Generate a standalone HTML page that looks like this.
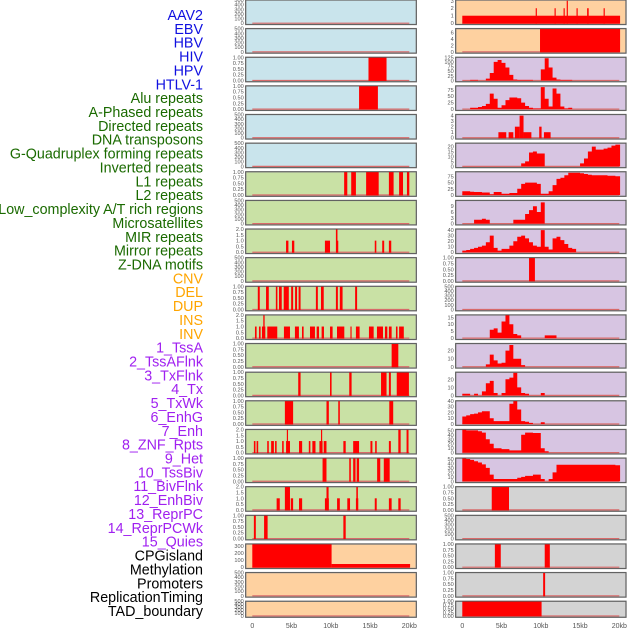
<!DOCTYPE html>
<html><head><meta charset="utf-8"><title>Genomic feature tracks</title>
<style>
html,body{margin:0;padding:0;background:#fff;}
svg{display:block;font-family:"Liberation Sans",sans-serif;}
</style></head>
<body>
<svg id="chart" width="630" height="630" viewBox="0 0 630 630" xmlns="http://www.w3.org/2000/svg">
<g id="labels"></g>
<g id="panels"></g>
<g id="xaxes"></g>
</svg>
<script>
const trackLabels = ["AAV2","EBV","HBV","HIV","HPV","HTLV-1","Alu repeats","A-Phased repeats","Directed repeats","DNA transposons","G-Quadruplex forming repeats","Inverted repeats","L1 repeats","L2 repeats","Low_complexity A/T rich regions","Microsatellites","MIR repeats","Mirror repeats","Z-DNA motifs","CNV","DEL","DUP","INS","INV","1_TssA","2_TssAFlnk","3_TxFlnk","4_Tx","5_TxWk","6_EnhG","7_Enh","8_ZNF_Rpts","9_Het","10_TssBiv","11_BivFlnk","12_EnhBiv","13_ReprPC","14_ReprPCWk","15_Quies","CPGisland","Methylation","Promoters","ReplicationTiming","TAD_boundary"];
const labelGroups = [6,13,5,15,5];
const groupColors = ["#1010e0","#1a6a00","#ffa500","#a020f0","#000000"];
const xTickValues = [0,5,10,15,20];
const xTickLabels = ["0","5kb","10kb","15kb","20kb"];

// ---- left column segment data [startKb, endKb, value] ----
const segHBV = [[14.8,17.1,1]];
const segHIV = [[13.6,16.0,1]];
const segAlu = [[11.7,12.1,1],[12.6,13.2,1],[14.5,16.1,1],[17.4,18.0,1],[18.7,19.2,1],[19.7,20.0,1]];
const segL9 = [[4.3,4.6,1],[5.05,5.35,1],[9.25,9.9,1],[10.75,10.95,1],[10.65,10.85,2],[15.6,15.8,1],[16.55,16.8,1],[17.4,17.7,1]];
const segL11 = [[0.7,0.95,1],[1.75,2.1,1],[3.0,3.2,1],[3.4,3.75,1],[4.0,4.65,1],[4.95,5.2,1],[5.45,5.7,1],[5.9,6.15,1],[8.1,8.35,1],[8.75,9.1,1],[10.65,10.9,1],[11.15,11.5,1],[13.1,13.35,1]];
const segL12 = [[0.34,0.55,1],[0.85,1.06,1],[1.23,1.66,1],[1.4,1.57,2],[1.91,3.18,1],[4.03,4.8,1],[5.43,5.94,1],[6.33,6.54,1],[7.35,7.98,1],[8.2,8.5,1],[8.83,9.13,1],[9.9,10.23,1],[10.79,11.72,1],[12.5,12.65,1],[13.2,13.67,1],[14.86,15.46,1],[15.88,16.65,1],[16.9,17.2,1],[17.4,17.75,1],[18.3,18.5,1],[18.7,19.3,1]];
const segL13 = [[17.75,18.6,1]];
const segL14 = [[5.85,6.15,1],[9.9,10.1,1],[12.35,12.65,1],[16.4,17.1,1],[17.4,17.65,1],[18.4,19.95,1]];
const segL15 = [[4.15,5.2,1],[9.45,9.75,1],[10.95,11.15,1],[17.45,17.95,1]];
const segL16 = [[0.2,0.4,1],[0.55,0.75,1],[1.9,2.1,1],[2.4,2.75,1],[2.9,3.1,1],[3.8,4.0,1],[4.3,4.8,1],[4.4,4.55,2],[5.95,6.35,1],[7.2,7.4,1],[7.65,8.05,1],[8.55,8.95,1],[8.75,8.9,2],[9.1,9.45,1],[11.6,11.9,1],[12.85,13.6,1],[15.05,15.3,1],[15.65,15.85,1],[17.4,17.65,1],[18.6,18.9,2],[19.65,19.9,2]];
const segL17 = [[8.95,9.45,1],[12.35,12.55,1],[12.85,13.15,1],[13.3,13.6,1],[15.9,16.3,1],[16.75,17.5,1]];
const segL18 = [[3.1,3.5,1],[4.15,4.8,2],[4.9,5.2,1],[5.95,6.35,1],[9.25,9.75,1],[9.45,9.72,2],[10.8,11.15,1],[12.1,12.45,1],[13.2,13.5,1],[13.25,13.45,2],[15.6,15.85,1],[17.4,17.75,1],[18.6,18.9,1]];
const segL19 = [[0.2,0.45,1],[1.5,1.95,1],[11.6,11.9,1]];
const segCNV = [[0,10.1,330],[10.1,20.1,45]];

// ---- right column segment data ----
const segINS = [[0,20.1,1],[9.35,9.5,2],[11.75,11.9,2],[12.9,13.05,2],[13.3,13.45,3],[14.55,14.7,2],[15.9,16.1,2],[18.0,18.15,2]];
const segINV = [[9.9,20.1,7.2]];
const segR5 = [[4.6,5.6,1],[5.9,6.5,1],[6.7,7.3,2],[7.3,7.8,4],[7.8,8.8,1],[9.8,10.1,2],[10.4,11.25,1]];
const segR10 = [[8.5,9.25,1]];
const segR18 = [[3.75,5.95,1]];
const segR20 = [[4.15,4.9,1],[10.5,11.15,1]];
const segR21 = [[10.3,10.55,1]];
const segR22 = [[0,10.1,1]];

// ---- right column profiles (value every 0.5 kb, 0..20 kb) ----
const profR3 = [0,0,3,3,0,0,10,40,100,110,95,70,30,5,3,3,3,3,0,0,60,120,70,15,5,3,3,3,0,0,0,0,0,0,0,0,0,0,0,0,0];
const profR4 = [0,0,5,5,8,12,20,60,40,5,15,35,45,45,42,25,12,5,3,3,85,40,10,80,60,10,3,5,0,0,0,0,0,0,0,0,0,0,0,0,0];
const profR6 = [0,0,0,0,0,0,0,0,0,0,0,0,0,0,0,3,5,14,15,13,13,0,0,0,0,0,0,0,0,0,3,8,15,20,17,17,18,19,21,22,22];
const profR7 = [15,15,13,12,12,10,10,3,12,12,5,5,8,8,25,45,50,50,50,45,5,5,15,40,65,70,80,90,90,90,88,85,82,80,80,80,80,78,78,76,76];
const profR8 = [0,0,0,2,2,2.5,2,0,0,0,0,0,0,2,2,2,5,7,9,6,11,0,0,0,0,0,0,0,0,0,0,0,0,0,0,0,0,0,0,0,0];
const profR9 = [3,4,6,8,10,12,18,30,8,3,6,6,12,20,28,30,25,18,12,10,40,10,5,25,28,22,15,8,6,0,0,0,0,0,0,0,0,0,0,0,0];
const profR12 = [0,0,0,0,0,0,0,6,7,4,12,17,10,3,2,0,0,0,0,0,0,2,2,2,0,0,0,0,0,0,0,0,0,0,0,0,0,0,0,0,0];
const profR13 = [0,0,0,0,0,0,3,15,8,4,5,20,27,10,10,2,0,0,0,0,0,0,0,0,0,0,0,0,0,0,0,0,0,0,0,0,0,0,0,0,0];
const profR14 = [2,2,0,2,0,5,15,18,3,0,3,20,22,28,10,3,2,0,0,0,3,0,0,0,0,0,0,0,0,0,0,0,0,0,0,0,0,0,0,0,0];
const profR15 = [13,15,17,18,20,22,22,10,5,5,5,5,35,40,25,5,4,2,0,0,3,0,0,0,0,0,0,0,0,0,0,0,0,0,0,0,0,0,0,0,0];
const profR16 = [52,50,50,50,48,45,30,20,10,10,8,8,5,5,5,40,45,45,44,44,10,3,0,0,0,0,0,0,0,0,0,0,0,0,0,0,0,0,0,0,0];
const profR17 = [52,50,48,45,42,38,30,15,5,5,5,5,5,5,8,10,12,12,15,15,5,0,5,20,37,37,37,37,37,37,37,37,37,37,37,37,37,37,37,36,36];

// ---- tick label sets ----
const tEmpty = ["0","100","200","300","400","500"];
const tUnit = ["0.00","0.25","0.50","0.75","1.00"];
const tTwo = ["0.0","0.5","1.0","1.5","2.0"];

const BLUE="#c9e4ec", GREEN="#c9e1a5", PEACH="#fed1a0", LAV="#d7c5e2", GRAY="#d3d3d3";
const leftPanels = [
 {bg:BLUE,ymax:500,ticks:tEmpty},
 {bg:BLUE,ymax:500,ticks:tEmpty},
 {bg:BLUE,ymax:1,ticks:tUnit,seg:segHBV},
 {bg:BLUE,ymax:1,ticks:tUnit,seg:segHIV},
 {bg:BLUE,ymax:500,ticks:tEmpty},
 {bg:BLUE,ymax:500,ticks:tEmpty},
 {bg:GREEN,ymax:1,ticks:tUnit,seg:segAlu},
 {bg:GREEN,ymax:500,ticks:tEmpty},
 {bg:GREEN,ymax:2,ticks:tTwo,seg:segL9},
 {bg:GREEN,ymax:500,ticks:tEmpty},
 {bg:GREEN,ymax:1,ticks:tUnit,seg:segL11},
 {bg:GREEN,ymax:2,ticks:tTwo,seg:segL12},
 {bg:GREEN,ymax:1,ticks:tUnit,seg:segL13},
 {bg:GREEN,ymax:1,ticks:tUnit,seg:segL14},
 {bg:GREEN,ymax:1,ticks:tUnit,seg:segL15},
 {bg:GREEN,ymax:2,ticks:tTwo,seg:segL16},
 {bg:GREEN,ymax:1,ticks:tUnit,seg:segL17},
 {bg:GREEN,ymax:2,ticks:tTwo,seg:segL18},
 {bg:GREEN,ymax:1,ticks:tUnit,seg:segL19},
 {bg:PEACH,ymax:330,ticks:["0","100","200","300"],seg:segCNV},
 {bg:PEACH,ymax:500,ticks:tEmpty},
 {bg:PEACH,ymax:500,ticks:tEmpty}
];
const rightPanels = [
 {bg:PEACH,ymax:3.1,ticks:["0","1","2","3"],seg:segINS},
 {bg:PEACH,ymax:7.2,ticks:["0","2","4","6"],seg:segINV},
 {bg:LAV,ymax:125,ticks:["0","25","50","75","100","125"],prof:profR3},
 {bg:LAV,ymax:90,ticks:["0","25","50","75"],prof:profR4},
 {bg:LAV,ymax:4.2,ticks:["0","1","2","3","4"],seg:segR5},
 {bg:LAV,ymax:23.5,ticks:["0","5","10","15","20"],prof:profR6},
 {bg:LAV,ymax:94,ticks:["0","25","50","75"],prof:profR7},
 {bg:LAV,ymax:12,ticks:["0","3","6","9"],prof:profR8},
 {bg:LAV,ymax:42,ticks:["0","10","20","30","40"],prof:profR9},
 {bg:LAV,ymax:1,ticks:tUnit,seg:segR10},
 {bg:LAV,ymax:500,ticks:tEmpty},
 {bg:LAV,ymax:16.7,ticks:["0","5","10","15"],prof:profR12},
 {bg:LAV,ymax:28.8,ticks:["0","10","20"],prof:profR13},
 {bg:LAV,ymax:28.8,ticks:["0","10","20"],prof:profR14},
 {bg:LAV,ymax:40,ticks:["0","10","20","30","40"],prof:profR15},
 {bg:LAV,ymax:52,ticks:["0","10","20","30","40","50"],prof:profR16},
 {bg:LAV,ymax:52,ticks:["0","10","20","30","40","50"],prof:profR17},
 {bg:GRAY,ymax:1,ticks:tUnit,seg:segR18},
 {bg:GRAY,ymax:500,ticks:tEmpty},
 {bg:GRAY,ymax:1,ticks:tUnit,seg:segR20},
 {bg:GRAY,ymax:1,ticks:tUnit,seg:segR21},
 {bg:GRAY,ymax:1,ticks:tUnit,seg:segR22}
];

const NS="http://www.w3.org/2000/svg";
function mk(tag, attrs, parent){const e=document.createElementNS(NS,tag);for(const k in attrs)e.setAttribute(k,attrs[k]);parent.appendChild(e);return e;}

// labels
const lg=document.getElementById('labels');
let gi=0, gc=0;
trackLabels.forEach((t,i)=>{
  while(gc>=labelGroups[gi]){gi++;gc=0;}
  gc++;
  const tx=mk('text',{x:203,y:15+i*13.86+5,'text-anchor':'end','font-size':'14.3',fill:groupColors[gi]},lg);
  
  
  tx.textContent=t;
});

const ROW=28.63;
const cols=[{px0:245.7,px1:416.3,x0:252.3,panels:leftPanels},{px0:455.7,px1:626,x0:462.3,panels:rightPanels}];
const KB=7.85;
const pg=document.getElementById('panels');
cols.forEach((c,ci)=>{
  const xs=kb=>c.x0+kb*KB;
  c.panels.forEach((p,r)=>{
    const top=r*ROW, h=(r===21)?16:24.5, bot=top+h;
    const g=mk('g',{},pg);
    
    
    const bgR=mk('rect',{x:c.px0,y:top,width:c.px1-c.px0,height:h,fill:p.bg,stroke:'#999','stroke-width':1.4},g);
    
    
    const y0=bot-1.3, rng=h-1.3;
    const ys=v=>y0-v/p.ymax*rng;
    const bl=mk('line',{x1:xs(0),x2:xs(20),y1:y0,y2:y0,stroke:'#d86a6a','stroke-width':1.2},g);
    
    
    if(p.seg){
      p.seg.forEach(s=>{
        const rr=mk('rect',{x:xs(s[0]),y:ys(s[2]),width:Math.max(0.8,xs(s[1])-xs(s[0])),height:y0-ys(s[2])+0.5,fill:'#ff0000'},g);
        
        
      });
    }
    if(p.prof){
      let d='M'+xs(0)+','+y0;
      p.prof.forEach((v,i)=>{
        const a=xs(i*0.5), b=xs(Math.min(20.1,i*0.5+0.5));
        d+=' L'+a+','+ys(v)+' L'+b+','+ys(v);
      });
      d+=' L'+xs(20.1)+','+y0+' Z';
      const pa=mk('path',{d:d,fill:'#ff0000'},g);
      
      
    }
    mk('rect',{x:c.px0,y:top,width:c.px1-c.px0,height:h,fill:'none',stroke:'#555','stroke-width':0.8},g);
    p.ticks.forEach((t,i)=>{
      const v=p.ymax===500?i*100:(p.ymax===330?i*100:(p.ticks===tUnit?i*0.25:(p.ticks===tTwo?i*0.5:parseFloat(t))));
      const tt=mk('text',{x:c.px0-2,y:ys(v)+2,'text-anchor':'end','font-size':'5.6',fill:'#555'},g);
      
      
      tt.textContent=t;
    });
  });
  const xg=document.getElementById('xaxes');
  xTickValues.forEach((v,i)=>{
    const t=mk('text',{x:xs(v),y:628,'text-anchor':'middle','font-size':'7',fill:'#555'},xg);
    
    
    t.textContent=xTickLabels[i];
  });
});
</script>
</body></html>
